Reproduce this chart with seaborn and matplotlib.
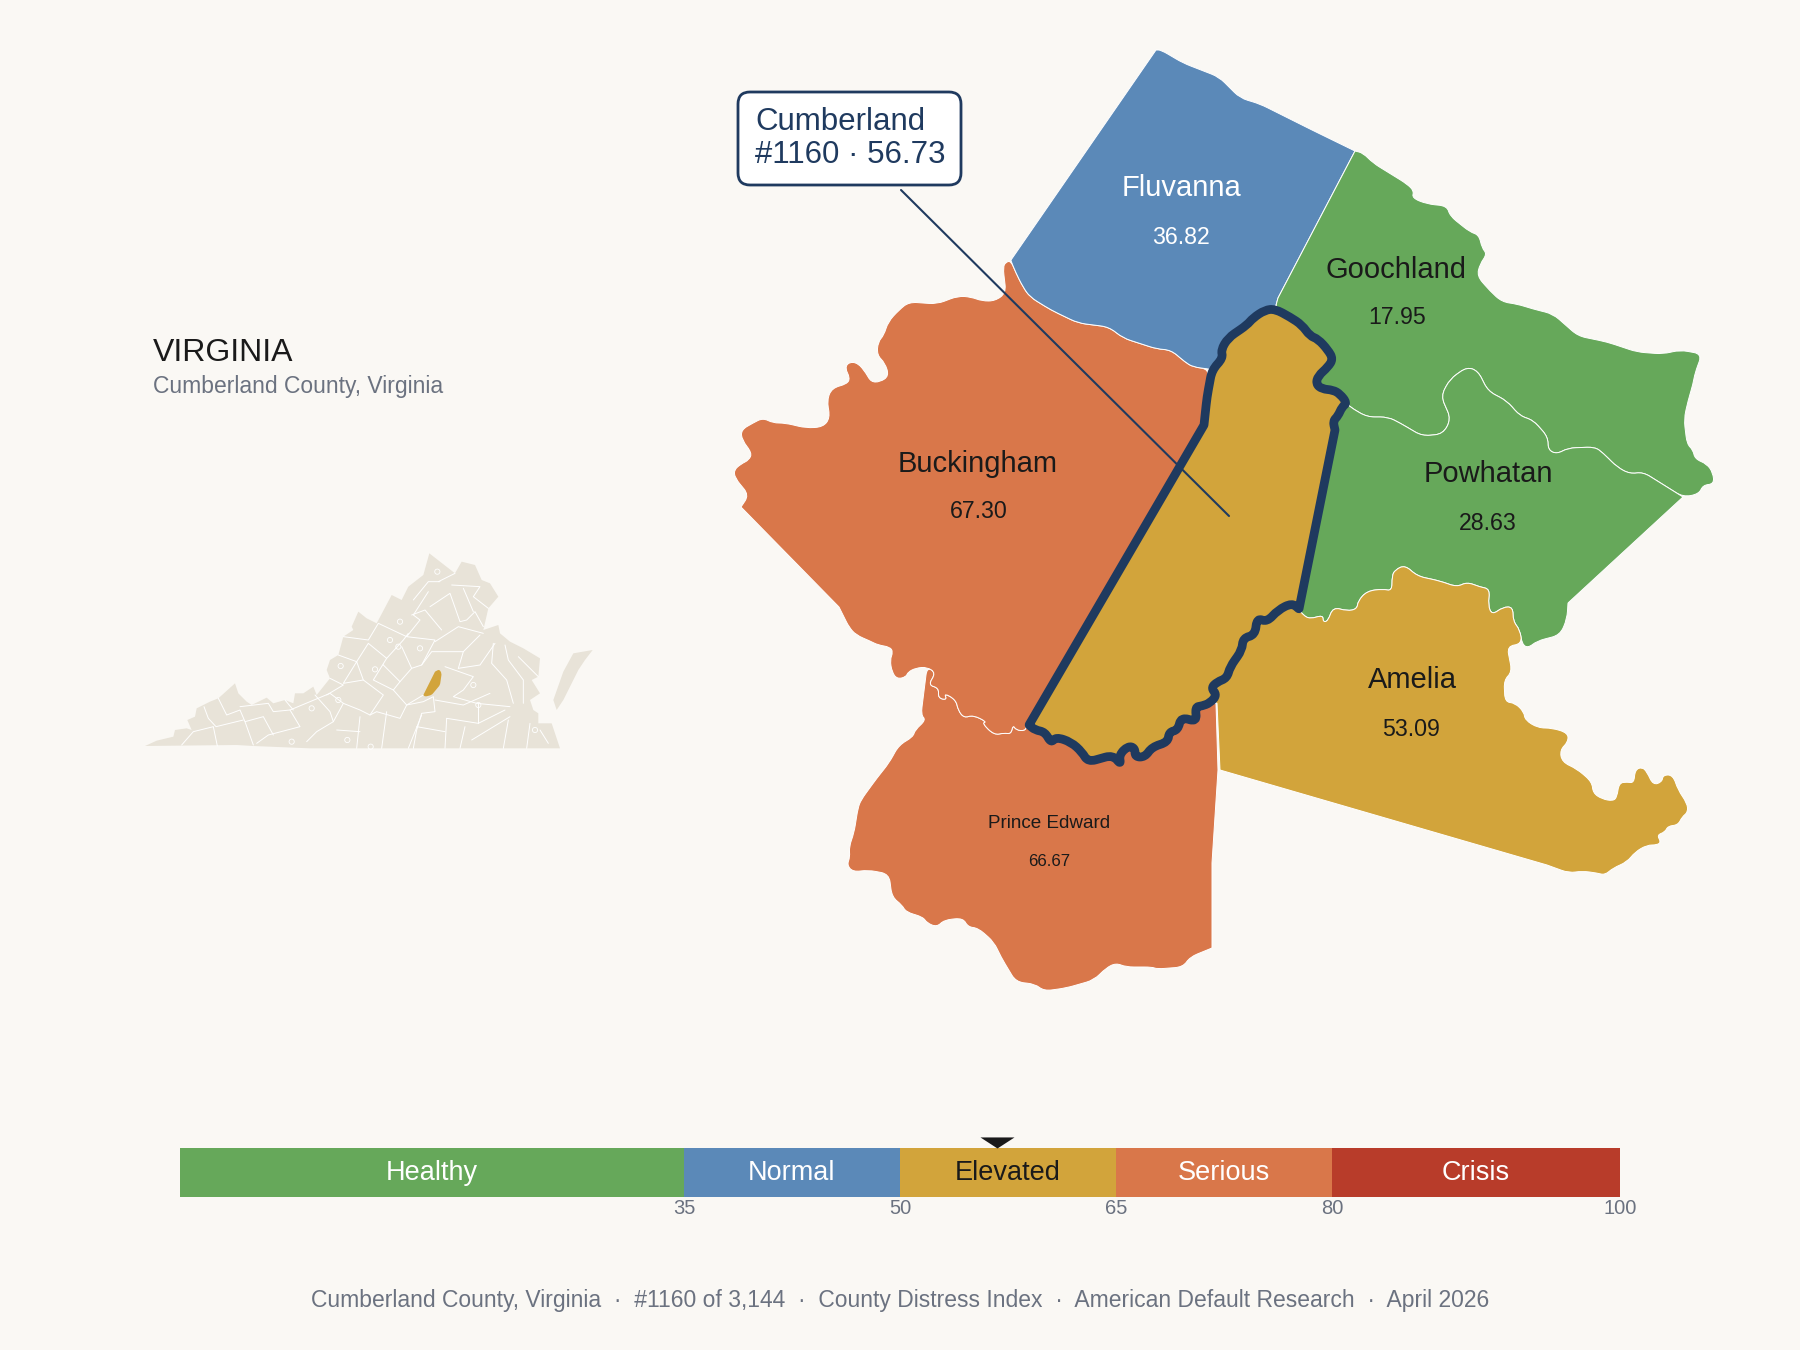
import matplotlib
matplotlib.use('Agg')
import matplotlib.pyplot as plt
import numpy as np
import seaborn as sns
from matplotlib.patches import FancyBboxPatch, PathPatch
from matplotlib.path import Path

BG = '#FAF8F4'
NAVY = '#1F3A5F'
INK = '#1A1A1A'
GREY = '#6B7280'
CREAM = '#E8E3D8'
GREEN = '#66A85A'
BLUE = '#5B89B8'
GOLD = '#D2A43B'
ORANGE = '#D9774A'
RED = '#B83C2A'

# severity scale
band_names = ['Healthy', 'Normal', 'Elevated', 'Serious', 'Crisis']
band_starts = [0, 35, 50, 65, 80]
band_ends = [35, 50, 65, 80, 100]
band_colors = [GREEN, BLUE, GOLD, ORANGE, RED]
band_text = ['white', 'white', INK, 'white', 'white']
band_ticks = [35, 50, 65, 80, 100]
county_score = 56.73

# shared borders
cumberland_nw = [(1212, 370), (1223, 358), (1221, 350), (1228, 338), (1247, 325), (1253, 318), (1265, 310), (1275, 309)]
cumberland_ne = [(1290, 317), (1302, 325), (1310, 336), (1318, 339), (1328, 350), (1333, 359), (1328, 367), (1318, 376),
                 (1316, 384), (1322, 389), (1333, 390), (1340, 394), (1347, 403)]
cumberland_e = [(1342, 407), (1338, 416), (1333, 421), (1335, 430), (1299, 609)]
cumberland_s = [(1292, 603), (1278, 610), (1267, 622), (1257, 618), (1255, 635), (1243, 638), (1242, 650), (1230, 667),
                (1227, 678), (1217, 682), (1211, 688), (1217, 695), (1210, 703), (1202, 706), (1195, 707), (1197, 722),
                (1181, 717), (1178, 730), (1169, 732), (1168, 742), (1152, 747), (1145, 757), (1135, 757), (1135, 748),
                (1128, 746), (1119, 755), (1121, 765), (1113, 755), (1088, 762), (1082, 752), (1071, 742), (1056, 737),
                (1051, 743), (1045, 732), (1035, 730), (1029, 725)]
cumberland_w = [(1204, 425), (1207, 397)]
appomattox = [(1027, 725), (1025, 731), (1016, 730), (1013, 725), (1011, 734), (1004, 733), (994, 735), (982, 723),
              (987, 722), (973, 715), (964, 718), (958, 710), (956, 700), (944, 693), (947, 700), (938, 698), (939, 688),
              (928, 685), (936, 673), (927, 667)]
james_south = [(1350, 407), (1367, 417), (1388, 417), (1400, 423), (1422, 436), (1443, 434), (1451, 419), (1441, 396),
               (1450, 379), (1467, 367), (1478, 371), (1488, 391), (1507, 401), (1520, 416), (1533, 420), (1548, 437),
               (1548, 450), (1557, 454), (1568, 448), (1595, 447), (1603, 453), (1617, 467), (1630, 474), (1643, 472),
               (1683, 497)]
powhatan_south = [(1522, 644), (1520, 630), (1513, 621), (1513, 607), (1503, 607), (1492, 615), (1488, 605), (1490, 589),
                  (1480, 587), (1467, 582), (1457, 587), (1440, 581), (1417, 576), (1405, 565), (1395, 570), (1392, 576),
                  (1392, 591), (1383, 589), (1367, 591), (1358, 601), (1357, 609), (1347, 611), (1333, 607), (1328, 621),
                  (1323, 622), (1323, 615), (1310, 619), (1303, 615), (1299, 609)]
fluvanna_south = [(1011, 261), (1016, 273), (1023, 287), (1030, 297), (1051, 310), (1078, 323), (1109, 327), (1123, 338),
                  (1157, 349), (1171, 350), (1185, 362), (1193, 367), (1209, 369)]

buckingham_west = [(916, 668), (908, 672), (906, 677), (897, 679), (892, 672), (890, 660), (893, 652), (890, 647),
                   (878, 645), (870, 641), (856, 635), (849, 627), (844, 617), (839, 607), (741, 507), (749, 495),
                   (735, 478), (734, 470), (741, 464), (749, 460), (752, 453), (742, 440), (741, 430), (753, 423),
                   (763, 418), (773, 423), (785, 423), (806, 428), (823, 427), (830, 418), (827, 400), (832, 388),
                   (847, 384), (850, 378), (845, 368), (849, 362), (858, 363), (866, 373), (871, 382), (880, 382),
                   (889, 376), (885, 363), (877, 355), (878, 342), (884, 335), (888, 322), (899, 310), (909, 302),
                   (937, 304), (958, 296), (971, 297), (982, 301), (995, 301), (1006, 293), (1003, 267), (1006, 262)]
fluvanna_north = [(1156, 50), (1161, 50), (1183, 63), (1219, 77), (1240, 98), (1260, 104), (1312, 130), (1355, 151)]
goochland_north = [(1363, 153), (1373, 163), (1407, 184), (1414, 191), (1412, 198), (1427, 204), (1447, 206), (1450, 216),
                   (1470, 232), (1479, 235), (1482, 248), (1487, 254), (1480, 264), (1477, 276), (1490, 291), (1502, 302),
                   (1517, 304), (1533, 309), (1553, 314), (1578, 336), (1607, 342), (1637, 352), (1663, 354), (1680, 350),
                   (1702, 354), (1695, 373), (1693, 384), (1688, 401), (1684, 419), (1687, 444), (1693, 450), (1695, 459),
                   (1707, 464), (1713, 473), (1714, 484), (1703, 485), (1699, 494)]
powhatan_east = [(1568, 603), (1567, 619), (1560, 635), (1537, 641), (1528, 648)]
amelia_east = [(1507, 646), (1512, 672), (1504, 680), (1505, 702), (1515, 703), (1524, 712), (1525, 720), (1538, 728),
               (1552, 728), (1568, 733), (1568, 742), (1560, 750), (1562, 762), (1577, 769), (1592, 782), (1593, 793),
               (1602, 799), (1613, 801), (1617, 797), (1619, 783), (1627, 782), (1634, 783), (1635, 770), (1642, 767),
               (1647, 772), (1653, 785), (1662, 782), (1663, 775), (1673, 775), (1678, 790), (1687, 803), (1688, 812),
               (1682, 817), (1678, 825), (1668, 826), (1665, 832), (1657, 835), (1661, 842), (1657, 845), (1647, 845),
               (1635, 852), (1627, 862), (1613, 868), (1605, 875), (1597, 873), (1582, 871), (1569, 873), (1547, 865),
               (1220, 770)]
prince_edward_outer = [(921, 715), (926, 720), (915, 730), (913, 737), (899, 745), (889, 763), (877, 778), (861, 800),
                       (858, 808), (854, 833), (849, 847), (850, 857), (847, 865), (853, 872), (868, 870), (889, 874),
                       (892, 897), (902, 905), (906, 912), (923, 917), (927, 923), (937, 927), (944, 920), (963, 918),
                       (968, 927), (978, 928), (994, 942), (1001, 957), (1016, 982), (1035, 984), (1044, 991), (1066, 988),
                       (1094, 980), (1106, 968), (1116, 963), (1126, 967), (1152, 967), (1157, 969), (1183, 967),
                       (1190, 957), (1212, 948), (1212, 863), (1218, 770), (1216, 703)]

cumberland = cumberland_nw + cumberland_ne + cumberland_e + cumberland_s + cumberland_w
buckingham = fluvanna_south + cumberland_w[::-1] + cumberland_s[-1:] + appomattox + buckingham_west
prince_edward = prince_edward_outer + cumberland_s[13:] + appomattox
fluvanna = [(1011, 260)] + fluvanna_north + [(1278, 298), (1275, 309)] + cumberland_nw[::-1] + fluvanna_south[::-1]
goochland = [(1355, 151)] + goochland_north + james_south[::-1] + cumberland_ne[::-1] + [(1275, 309), (1278, 298)]
powhatan = james_south + powhatan_east + powhatan_south + cumberland_e[::-1] + cumberland_ne[-1:]
amelia = powhatan_south + cumberland_s[:13] + [(1217, 703)] + amelia_east[::-1]

counties = [prince_edward, buckingham, fluvanna, goochland, powhatan, amelia]
county_colors = [ORANGE, ORANGE, BLUE, GREEN, GREEN, GOLD]

county_names = ['Fluvanna', 'Goochland', 'Powhatan', 'Amelia', 'Buckingham', 'Prince Edward']
county_values = ['36.82', '17.95', '28.63', '53.09', '67.30', '66.67']
name_xy = [(1181, 188), (1396, 270), (1488, 474), (1412, 680), (978, 464), (1049, 823)]
value_xy = [(1181, 237), (1397, 317), (1488, 523), (1411, 729), (979, 511), (1049, 862)]
label_colors = ['white', INK, INK, INK, INK, INK]
name_sizes = [21, 21, 21, 21, 21, 13.6]
value_sizes = [16.7, 16.7, 16.7, 16.7, 16.7, 12.2]

# state inset
state_outline = [(45, 648), (80, 632), (130, 620), (135, 600), (170, 595), (185, 600), (172, 570), (195, 560), (200, 535),
                 (240, 515), (265, 505), (315, 460), (325, 490), (350, 515), (365, 525), (410, 503), (430, 520), (465, 510),
                 (490, 520), (495, 490), (520, 490), (550, 470), (560, 495), (600, 445), (590, 420), (600, 390), (625, 375),
                 (640, 320), (670, 300), (665, 290), (685, 245), (710, 265), (740, 280), (785, 195), (815, 210), (835, 170),
                 (880, 135), (898, 70), (975, 130), (995, 95), (1035, 105), (1055, 150), (1080, 160), (1105, 200), (1075, 235),
                 (1060, 300), (1105, 285), (1110, 310), (1140, 335), (1180, 355), (1230, 385), (1225, 440), (1205, 450),
                 (1230, 490), (1200, 510), (1210, 540), (1225, 550), (1225, 580), (1265, 580), (1290, 655), (540, 655),
                 (370, 648), (320, 645)]
eastern_shore = [(1388, 360), (1330, 370), (1300, 425), (1270, 510), (1280, 540), (1300, 510), (1345, 420), (1365, 390)]
state_cumberland = [(880, 495), (915, 425), (928, 418), (935, 430), (930, 465), (905, 495), (885, 500)]
county_lines = [
    [(155, 645), (190, 605), (250, 590), (262, 648)],
    [(222, 530), (235, 565), (258, 590), (340, 570)],
    [(265, 505), (290, 555), (330, 540), (345, 575), (370, 645)],
    [(345, 575), (400, 560), (430, 615)],
    [(330, 530), (415, 520), (430, 545), (480, 540), (510, 590), (415, 615), (380, 640)],
    [(480, 540), (600, 490), (640, 520), (610, 575), (560, 605), (530, 635)],
    [(465, 510), (490, 540)],
    [(555, 495), (600, 545), (610, 575)],
    [(600, 445), (640, 465), (590, 495)],
    [(625, 375), (680, 395), (640, 460), (700, 450), (680, 395), (715, 340), (770, 385), (820, 330), (835, 310)],
    [(640, 320), (715, 330), (745, 280), (830, 320), (870, 270), (850, 255), (895, 185)],
    [(700, 450), (760, 495), (720, 555), (690, 540), (640, 520)],
    [(770, 385), (730, 450), (790, 480), (810, 455), (760, 405)],
    [(810, 455), (845, 415), (815, 350)],
    [(845, 415), (875, 405), (915, 330), (830, 320)],
    [(875, 405), (905, 365), (1000, 365), (985, 415)],
    [(915, 335), (985, 290), (1060, 310)],
    [(790, 480), (830, 525), (880, 495)],
    [(720, 555), (740, 545), (810, 565), (830, 525), (880, 515), (910, 500), (915, 545), (875, 550), (860, 600), (850, 655)],
    [(915, 510), (1000, 525), (1080, 490)],
    [(945, 410), (1030, 440), (1000, 480), (970, 500), (1040, 520), (1140, 530)],
    [(1000, 365), (1050, 315)],
    [(985, 415), (1050, 405), (1095, 340)],
    [(620, 600), (690, 605)],
    [(690, 560), (680, 655)],
    [(770, 545), (755, 655)],
    [(875, 555), (835, 655)],
    [(950, 565), (945, 655)],
    [(860, 590), (945, 605)],
    [(1005, 590), (990, 655)],
    [(950, 565), (1045, 580), (1125, 540)],
    [(1045, 520), (1045, 580)],
    [(1025, 630), (1140, 560)],
    [(1135, 570), (1120, 655)],
    [(1200, 580), (1190, 655)],
    [(1230, 600), (1255, 640)],
    [(935, 300), (885, 240), (845, 255)],
    [(900, 230), (960, 190), (990, 275), (1010, 270), (1035, 245), (1060, 290)],
    [(965, 165), (1050, 170), (1030, 200), (1075, 235)],
    [(1000, 175), (1030, 245)],
    [(930, 155), (895, 155), (850, 210)],
    [(925, 155), (975, 130)],
    [(1090, 340), (1085, 400), (1130, 450), (1150, 520)],
    [(1125, 345), (1135, 390), (1180, 450), (1180, 520)],
    [(1165, 380), (1225, 440)],
]
city_x = [810, 780, 805, 870, 922, 632, 735, 625, 545, 485, 652, 722, 1045, 1030, 1215]
city_y = [275, 330, 350, 355, 125, 408, 418, 510, 535, 635, 630, 650, 525, 465, 600]


def rounded_path(points, r=8, long_edge=60):
    # closed outline, wiggly corners eased by a quadratic curve, corners on long straight edges stay sharp
    pts = [p for i, p in enumerate(points) if p != points[i - 1]]
    pts = np.array(pts, dtype=float)
    n = len(pts)
    verts, codes = [], []
    for i in range(n):
        prev, cur, nxt = pts[i - 1], pts[i], pts[(i + 1) % n]
        d0 = np.hypot(*(cur - prev))
        d1 = np.hypot(*(nxt - cur))
        cut = 0.5 if max(d0, d1) > long_edge else r
        a = cur + (prev - cur) * min(cut, d0 / 2) / d0
        b = cur + (nxt - cur) * min(cut, d1 / 2) / d1
        codes.append(Path.LINETO if verts else Path.MOVETO)
        verts.extend([a, cur, b])
        codes.extend([Path.CURVE3, Path.CURVE3])
    verts.append(verts[0])
    codes.append(Path.CLOSEPOLY)
    return Path(verts, codes)


sns.set_theme(style='white', rc={'figure.facecolor': BG, 'savefig.facecolor': BG})
plt.rcParams['font.family'] = ['Liberation Sans', 'DejaVu Sans']

fig = plt.figure(figsize=(18, 13.5), dpi=100)

# main map, drawn in picture coordinates
ax = fig.add_axes([0, 0, 1, 1])
ax.set_xlim(0, 1800)
ax.set_ylim(1350, 0)
ax.axis('off')

for poly, col in zip(counties, county_colors):
    ax.add_patch(PathPatch(rounded_path(poly), facecolor=col, edgecolor='white', linewidth=0.7, zorder=2))

ax.add_patch(PathPatch(rounded_path(cumberland), facecolor=GOLD, edgecolor=NAVY, linewidth=6.3, joinstyle='round', zorder=3))

for name, val, nxy, vxy, col, ns, vs in zip(county_names, county_values, name_xy, value_xy, label_colors, name_sizes, value_sizes):
    ax.text(nxy[0], nxy[1], name, color=col, fontsize=ns, ha='center', va='center', zorder=5)
    ax.text(vxy[0], vxy[1], val, color=col, fontsize=vs, ha='center', va='center', zorder=5)

# callout
ax.plot([901, 1229], [190, 516], color=NAVY, linewidth=1.5, zorder=4)
ax.add_patch(FancyBboxPatch((748, 102), 203, 73, boxstyle='round,pad=10,rounding_size=12',
                            facecolor='white', edgecolor=NAVY, linewidth=2, zorder=6))
ax.text(755, 122, 'Cumberland', color=NAVY, fontsize=22.5, ha='left', va='center', zorder=7)
ax.text(755, 155, '#1160 · 56.73', color=NAVY, fontsize=22.5, ha='left', va='center', zorder=7)

ax.text(153, 353, 'VIRGINIA', color=INK, fontsize=23, ha='left', va='center')
ax.text(153, 387, 'Cumberland County, Virginia', color=GREY, fontsize=16.5, ha='left', va='center')
ax.text(900, 1301, 'Cumberland County, Virginia  ·  #1160 of 3,144  ·  County Distress Index  ·  American Default Research  ·  April 2026',
        color=GREY, fontsize=16.5, ha='center', va='center')

# state inset
inset = fig.add_axes([130 / 1800, 1 - 770 / 1350, 480 / 1800, 240 / 1350])
inset.patch.set_alpha(0)
inset.axis('off')
for poly in [state_outline, eastern_shore]:
    xs, ys = zip(*poly)
    inset.fill(xs, ys, facecolor=CREAM, edgecolor='none')
for seg in county_lines:
    xs, ys = zip(*seg)
    inset.plot(xs, ys, color='white', linewidth=0.7)
sns.scatterplot(x=city_x, y=city_y, s=14, facecolor='none', edgecolor='white', linewidth=0.6, ax=inset, legend=False)
inset.add_patch(PathPatch(rounded_path(state_cumberland, r=6), facecolor=GOLD, edgecolor='none', zorder=4))
inset.set_xlim(0, 1440)
inset.set_ylim(720, 0)

# severity bar, longest first so each band shows past the next one
bar = fig.add_axes([180 / 1800, 1 - 1197 / 1350, 1440 / 1800, 49 / 1350])
bar.patch.set_alpha(0)
for end, col in sorted(zip(band_ends, band_colors), reverse=True):
    sns.barplot(x=[end], y=['score'], color=col, saturation=1, width=1, linewidth=0, edgecolor='none', ax=bar)
bar.set_xlim(0, 100)
bar.set_ylim(0.5, -0.5)
bar.set_xticks(band_ticks)
bar.set_xticklabels([str(t) for t in band_ticks], color=GREY, fontsize=14.5)
bar.tick_params(axis='x', length=0, pad=1.5)
bar.set_yticks([])
bar.set_xlabel('')
bar.set_ylabel('')
sns.despine(ax=bar, left=True, bottom=True)
for name, lo, hi, col in zip(band_names, band_starts, band_ends, band_text):
    bar.text((lo + hi) / 2, 0.0, name, color=col, fontsize=19.5, ha='center', va='center')
bar.plot(county_score, 1, marker=[(-1, 0.65), (1, 0.65), (0, 0)], markersize=24.5, color=INK, markeredgewidth=0,
         transform=bar.get_xaxis_transform(), clip_on=False)

fig.savefig('out.png', dpi=100)
